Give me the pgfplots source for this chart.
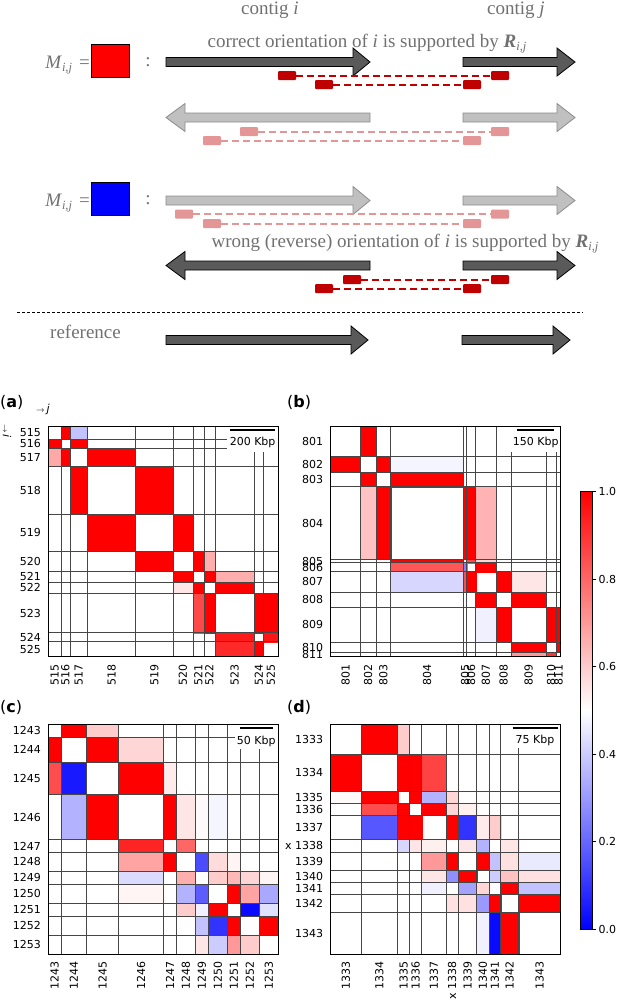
\documentclass[border=0pt]{standalone}
\usepackage{pgfplots}
\pgfplotsset{compat=1.18}
\usepgfplotslibrary{patchplots}
\usepackage{fontspec}
\setmainfont{DejaVu Sans}
\newfontfamily\tnr{Liberation Serif}
\definecolor{txtgray}{RGB}{112,112,112}
\definecolor{arrdark}{RGB}{90,90,90}
\definecolor{arrlight}{RGB}{192,192,192}
\definecolor{arrlightedge}{RGB}{140,140,140}
\definecolor{readdark}{RGB}{192,0,0}
\definecolor{readlight}{RGB}{228,150,150}
\definecolor{gridc}{RGB}{70,70,70}
\newcommand{\tickfont}{\fontsize{11}{12}\selectfont}
\newcommand{\schfont}{\tnr\fontsize{19}{20}\selectfont}
\newcommand{\sub}[1]{\raisebox{-3.5pt}{\fontsize{12.5}{12.5}\selectfont\itshape #1}}
\newcommand{\cell}[5]{\addplot[patch, patch type=rectangle, shader=flat, point meta=explicit, forget plot] coordinates {(#1,#3) [#5] (#2,#3) [#5] (#2,#4) [#5] (#1,#4) [#5]};}
% right arrow: tail x, centre y, shaft length, head length, style
\newcommand{\rarr}[5]{\draw[#5] (axis cs:#1,#2) ++(0pt,4.5pt) -- ++(#3pt,0pt) -- ++(0pt,9.5pt) -- ++(#4pt,-14pt) -- ++(-#4pt,-14pt) -- ++(0pt,9.5pt) -- ++(-#3pt,0pt) -- cycle;}
% left arrow: tail x (right end), centre y, shaft length, head length, style
\newcommand{\larr}[5]{\draw[#5] (axis cs:#1,#2) ++(0pt,4.5pt) -- ++(-#3pt,0pt) -- ++(0pt,9.5pt) -- ++(-#4pt,-14pt) -- ++(#4pt,-14pt) -- ++(0pt,9.5pt) -- ++(#3pt,0pt) -- cycle;}
% read pair: left box x, right box x, centre y, colour
\newcommand{\readpair}[4]{%
 \fill[#4, rounded corners=1pt] (axis cs:#1,#3) ++(0pt,4.5pt) rectangle ++(18pt,-9pt);
 \fill[#4, rounded corners=1pt] (axis cs:#2,#3) ++(0pt,4.5pt) rectangle ++(18pt,-9pt);
 \draw[#4, line width=2pt, dash pattern=on 7pt off 4pt] (axis cs:#1,#3) ++(18pt,0pt) -- (axis cs:#2,#3);}
\tikzset{darkarr/.style={fill=arrdark, draw=black, line width=0.8pt},
         lightarr/.style={fill=arrlight, draw=arrlightedge, line width=0.8pt}}
\pgfplotsset{
 hm/.style={anchor=north west, scale only axis, width=230pt, height=230pt,
   xmin=0, xmax=690, ymin=0, ymax=690, y dir=reverse, axis on top,
   axis line style={black, line width=0.8pt},
   major tick length=0pt, minor tick length=0pt,
   xtick pos=bottom, ytick pos=left,
   xticklabel style={font=\tickfont, rotate=90, anchor=east},
   yticklabel style={font=\tickfont, anchor=east},
   xticklabel shift=4pt, yticklabel shift=4pt,
   colormap={bwr}{rgb255=(0,0,255) rgb255=(255,255,255) rgb255=(255,0,0)},
   point meta min=0, point meta max=1},
 gl/.style={gridc, line width=0.6pt, forget plot},
}
\begin{document}
\begin{tikzpicture}
\path[use as bounding box] (0pt,0pt) rectangle (617pt,-1000pt);
% ---------------- schematic ----------------
\begin{axis}[at={(0pt,0pt)}, anchor=north west, scale only axis, width=617pt, height=1000pt,
  xmin=0, xmax=617, ymin=0, ymax=1000, y dir=reverse, hide axis, clip=false]
\addplot[draw=none, forget plot] coordinates {(0,0)};
\node[anchor=base, font=\schfont, text=txtgray] at (axis cs:270,14) {contig \textit{i}};
\node[anchor=base, font=\schfont, text=txtgray] at (axis cs:516,14) {contig \textit{j}};
\node[anchor=base, font=\schfont, text=txtgray] at (axis cs:367,47) {correct orientation of \textit{i} is supported by {\bfseries\itshape R}\sub{i,j}};
\node[anchor=base, font=\schfont, text=txtgray] at (axis cs:405,247) {wrong (reverse) orientation of \textit{i} is supported by {\bfseries\itshape R}\sub{i,j}};
\node[anchor=base east, inner sep=0pt, font=\schfont, text=txtgray] at (axis cs:90,68) {\textit{M}\sub{i,j}\hspace{7pt}=};
\node[anchor=base east, inner sep=0pt, font=\schfont, text=txtgray] at (axis cs:90,206) {\textit{M}\sub{i,j}\hspace{7pt}=};
\draw[fill=red, line width=0.8pt] (axis cs:91,44) rectangle (axis cs:129,77);
\draw[fill=blue, line width=0.8pt] (axis cs:91,182) rectangle (axis cs:129,215);
\node[anchor=base, inner sep=0pt, font=\schfont, text=txtgray] at (axis cs:148,66) {:};
\node[anchor=base, inner sep=0pt, font=\schfont, text=txtgray] at (axis cs:148,204) {:};
% row 1
\rarr{166}{62}{187}{17}{darkarr}
\rarr{463}{62}{94}{18}{darkarr}
\readpair{278}{491}{75.5}{readdark}
\readpair{315}{463}{84.7}{readdark}
% row 2
\larr{370}{117.5}{185}{19}{lightarr}
\rarr{463}{117.5}{94}{18}{lightarr}
\readpair{240}{491}{131.5}{readlight}
\readpair{203}{463}{140.5}{readlight}
% row 3
\rarr{166}{200.5}{187}{17}{lightarr}
\rarr{463}{200.5}{94}{18}{lightarr}
\readpair{175}{491}{214}{readlight}
\readpair{203}{463}{223.5}{readlight}
% row 4
\larr{370}{265.5}{185}{19}{darkarr}
\rarr{463}{265.5}{94}{18}{darkarr}
\readpair{343}{491}{279.5}{readdark}
\readpair{315}{463}{288.5}{readdark}
% reference
\draw[black, line width=0.6pt, dash pattern=on 3pt off 2pt] (axis cs:17,312) -- (axis cs:583,312);
\node[anchor=base west, inner sep=0pt, font=\schfont, text=txtgray] at (axis cs:50,338) {reference};
\rarr{166}{340}{185}{17}{darkarr}
\rarr{462}{340}{91}{17}{darkarr}
% panel labels
\node[anchor=base west, inner sep=0pt, font=\fontsize{16}{16}\selectfont] at (axis cs:0,407) {(\textbf{a})};
\node[anchor=base west, inner sep=0pt, font=\fontsize{16}{16}\selectfont] at (axis cs:287,407) {(\textbf{b})};
\node[anchor=base west, inner sep=0pt, font=\fontsize{16}{16}\selectfont] at (axis cs:0,712) {(\textbf{c})};
\node[anchor=base west, inner sep=0pt, font=\fontsize{16}{16}\selectfont] at (axis cs:287,712) {(\textbf{d})};
\node[anchor=base west, inner sep=0pt, font=\fontsize{11}{11}\selectfont] at (axis cs:36,412) {$\scriptstyle\rightarrow$\,\textit{j}};
\node[rotate=-90, inner sep=0pt, font=\fontsize{11}{11}\selectfont] at (axis cs:7,431) {$\scriptstyle\rightarrow$\,\textit{i}};
\end{axis}
% ---------------- panel (a) ----------------
\begin{axis}[hm, at={(48.3pt,-426.7pt)},
  xtick={19,51.5,91.5,190,318,404,450.5,483.5,559,631.5,667.5},
  xticklabels={515,516,517,518,519,520,521,522,523,524,525},
  ytick={19,51.5,91.5,190,318,404,450.5,483.5,559,631.5,667.5},
  yticklabels={515,516,517,518,519,520,521,522,523,524,525}]
\cell{38}{65}{0}{38}{1}
\cell{65}{118}{0}{38}{0.38}
\cell{0}{38}{38}{65}{1}
\cell{65}{118}{38}{65}{1}
\cell{0}{38}{65}{118}{0.67}
\cell{38}{65}{65}{118}{1}
\cell{118}{262}{65}{118}{1}
\cell{65}{118}{118}{262}{1}
\cell{262}{374}{118}{262}{1}
\cell{118}{262}{262}{374}{1}
\cell{374}{434}{262}{374}{1}
\cell{262}{374}{374}{434}{1}
\cell{434}{467}{374}{434}{1}
\cell{467}{500}{374}{434}{0.66}
\cell{374}{434}{434}{467}{1}
\cell{467}{500}{434}{467}{1}
\cell{500}{618}{434}{467}{0.66}
\cell{374}{434}{467}{500}{0.55}
\cell{434}{467}{467}{500}{1}
\cell{500}{618}{467}{500}{1}
\cell{434}{467}{500}{618}{0.86}
\cell{467}{500}{500}{618}{1}
\cell{618}{645}{500}{618}{1}
\cell{645}{690}{500}{618}{1}
\cell{500}{618}{618}{645}{0.95}
\cell{645}{690}{618}{645}{0.96}
\cell{500}{618}{645}{690}{0.92}
\cell{618}{645}{645}{690}{1}
\pgfplotsinvokeforeach{38,65,118,262,374,434,467,500,618,645}{
  \addplot[gl] coordinates {(#1,0) (#1,690)};
  \addplot[gl] coordinates {(0,#1) (690,#1)};}
\addplot[fill=white, draw=none, forget plot] coordinates {(535,0) (690,0) (690,75) (535,75)} --cycle;
\addplot[black, line width=2pt, forget plot] coordinates {(545,10) (681,10)};
\node[font=\tickfont] at (axis cs:613,48) {200 Kbp};
\end{axis}
% ---------------- panel (b) ----------------
\begin{axis}[hm, at={(330.7pt,-426.7pt)},
  xtick={44.5,112.5,158,289,403,421.5,465.5,518.5,593.5,661.5,683.5},
  xticklabels={801,802,803,804,805,806,807,808,809,810,811},
  ytick={44.5,112.5,158,289,403,421.5,465.5,518.5,593.5,661.5,683.5},
  yticklabels={801,802,803,804,805,806,807,808,809,810,811}]
\cell{89}{136}{0}{89}{1}
\cell{0}{89}{89}{136}{1}
\cell{136}{180}{89}{136}{1}
\cell{180}{398}{89}{136}{0.48}
\cell{89}{136}{136}{180}{1}
\cell{180}{398}{136}{180}{1}
\cell{89}{136}{180}{398}{0.62}
\cell{136}{180}{180}{398}{1}
\cell{398}{408}{180}{398}{1}
\cell{408}{435}{180}{398}{1}
\cell{435}{496}{180}{398}{0.65}
\cell{180}{398}{398}{408}{1}
\cell{408}{435}{398}{408}{0.85}
\cell{435}{496}{398}{408}{0.58}
\cell{180}{398}{408}{435}{0.83}
\cell{398}{408}{408}{435}{0.25}
\cell{435}{496}{408}{435}{1}
\cell{180}{398}{435}{496}{0.42}
\cell{398}{408}{435}{496}{0.85}
\cell{408}{435}{435}{496}{1}
\cell{496}{541}{435}{496}{1}
\cell{541}{646}{435}{496}{0.55}
\cell{435}{496}{496}{541}{1}
\cell{541}{646}{496}{541}{1}
\cell{435}{496}{541}{646}{0.47}
\cell{496}{541}{541}{646}{1}
\cell{646}{677}{541}{646}{1}
\cell{677}{690}{541}{646}{1}
\cell{541}{646}{646}{677}{1}
\cell{677}{690}{646}{677}{1}
\cell{541}{646}{677}{690}{0.7}
\cell{646}{677}{677}{690}{0.9}
\pgfplotsinvokeforeach{89,136,180,398,408,435,496,541,646,677}{
  \addplot[gl] coordinates {(#1,0) (#1,690)};
  \addplot[gl] coordinates {(0,#1) (690,#1)};}
\addplot[fill=white, draw=none, forget plot] coordinates {(510,0) (690,0) (690,75) (510,75)} --cycle;
\addplot[black, line width=2pt, forget plot] coordinates {(558,10) (671,10)};
\node[font=\tickfont] at (axis cs:615,48) {150 Kbp};
\end{axis}
% ---------------- panel (c) ----------------
\begin{axis}[hm, at={(48.3pt,-724.3pt)},
  xtick={19,76.5,163,278.5,365,413,461,509,557,604.5,661.5},
  xticklabels={1243,1244,1245,1246,1247,1248,1249,1250,1251,1252,1253},
  ytick={19,76.5,163,278.5,365,413,461,509,557,604.5,661.5},
  yticklabels={1243,1244,1245,1246,1247,1248,1249,1250,1251,1252,1253}]
\cell{38}{115}{0}{38}{1}
\cell{115}{211}{0}{38}{0.6}
\cell{0}{38}{38}{115}{1}
\cell{115}{211}{38}{115}{1}
\cell{211}{346}{38}{115}{0.58}
\cell{0}{38}{115}{211}{0.85}
\cell{38}{115}{115}{211}{0.05}
\cell{211}{346}{115}{211}{1}
\cell{346}{384}{115}{211}{0.54}
\cell{38}{115}{211}{346}{0.35}
\cell{115}{211}{211}{346}{1}
\cell{346}{384}{211}{346}{1}
\cell{384}{442}{211}{346}{0.55}
\cell{442}{480}{211}{346}{0.51}
\cell{480}{538}{211}{346}{0.48}
\cell{211}{346}{346}{384}{0.93}
\cell{384}{442}{346}{384}{0.8}
\cell{211}{346}{384}{442}{0.68}
\cell{346}{384}{384}{442}{1}
\cell{442}{480}{384}{442}{0.15}
\cell{480}{538}{384}{442}{0.57}
\cell{538}{576}{384}{442}{0.52}
\cell{211}{346}{442}{480}{0.43}
\cell{384}{442}{442}{480}{0.66}
\cell{480}{538}{442}{480}{0.6}
\cell{538}{576}{442}{480}{0.64}
\cell{576}{633}{442}{480}{0.58}
\cell{633}{690}{442}{480}{0.52}
\cell{211}{346}{480}{538}{0.52}
\cell{384}{442}{480}{538}{0.35}
\cell{442}{480}{480}{538}{0.18}
\cell{538}{576}{480}{538}{1}
\cell{576}{633}{480}{538}{0.68}
\cell{633}{690}{480}{538}{0.33}
\cell{384}{442}{538}{576}{0.6}
\cell{442}{480}{538}{576}{0.47}
\cell{480}{538}{538}{576}{1}
\cell{576}{633}{538}{576}{0.02}
\cell{633}{690}{538}{576}{0.44}
\cell{442}{480}{576}{633}{0.38}
\cell{480}{538}{576}{633}{0.1}
\cell{538}{576}{576}{633}{1}
\cell{633}{690}{576}{633}{1}
\cell{442}{480}{633}{690}{0.55}
\cell{480}{538}{633}{690}{0.4}
\cell{538}{576}{633}{690}{0.7}
\cell{576}{633}{633}{690}{0.6}
\pgfplotsinvokeforeach{38,115,211,346,384,442,480,538,576,633}{
  \addplot[gl] coordinates {(#1,0) (#1,690)};
  \addplot[gl] coordinates {(0,#1) (690,#1)};}
\addplot[fill=white, draw=none, forget plot] coordinates {(560,0) (690,0) (690,75) (560,75)} --cycle;
\addplot[black, line width=2pt, forget plot] coordinates {(575,12) (673,12)};
\node[font=\tickfont] at (axis cs:624,52) {50 Kbp};
\end{axis}
% ---------------- panel (d) ----------------
\begin{axis}[hm, at={(330.7pt,-724.3pt)},
  xtick={45.5,146,218.5,254.5,309.5,364.5,410.5,456.5,492.5,537,627},
  xticklabels={1333,1334,1335,1336,1337,x 1338,1339,1340,1341,1342,1343},
  ytick={45.5,146,218.5,254.5,309.5,364.5,410.5,456.5,492.5,537,627},
  yticklabels={1333,1334,1335,1336,1337,x 1338,1339,1340,1341,1342,1343}]
\cell{91}{201}{0}{91}{1}
\cell{201}{236}{0}{91}{0.6}
\cell{0}{91}{91}{201}{1}
\cell{201}{236}{91}{201}{1}
\cell{236}{273}{91}{201}{1}
\cell{273}{346}{91}{201}{0.87}
\cell{0}{91}{201}{236}{0.51}
\cell{91}{201}{201}{236}{1}
\cell{236}{273}{201}{236}{1}
\cell{273}{346}{201}{236}{0.35}
\cell{346}{383}{201}{236}{0.58}
\cell{91}{201}{236}{273}{0.85}
\cell{201}{236}{236}{273}{1}
\cell{273}{346}{236}{273}{1}
\cell{346}{383}{236}{273}{0.58}
\cell{383}{438}{236}{273}{0.53}
\cell{91}{201}{273}{346}{0.17}
\cell{201}{236}{273}{346}{1}
\cell{236}{273}{273}{346}{1}
\cell{346}{383}{273}{346}{1}
\cell{383}{438}{273}{346}{0.1}
\cell{438}{475}{273}{346}{0.54}
\cell{475}{510}{273}{346}{0.6}
\cell{201}{236}{346}{383}{0.42}
\cell{236}{273}{346}{383}{0.55}
\cell{273}{346}{346}{383}{0.53}
\cell{383}{438}{346}{383}{0.55}
\cell{438}{475}{346}{383}{0.35}
\cell{510}{564}{346}{383}{0.55}
\cell{273}{346}{383}{438}{0.7}
\cell{346}{383}{383}{438}{1}
\cell{438}{475}{383}{438}{1}
\cell{475}{510}{383}{438}{0.38}
\cell{510}{564}{383}{438}{0.56}
\cell{564}{690}{383}{438}{0.46}
\cell{273}{346}{438}{475}{0.55}
\cell{346}{383}{438}{475}{0.28}
\cell{383}{438}{438}{475}{1}
\cell{475}{510}{438}{475}{0.4}
\cell{510}{564}{438}{475}{0.62}
\cell{564}{690}{438}{475}{0.56}
\cell{273}{346}{475}{510}{0.47}
\cell{383}{438}{475}{510}{0.32}
\cell{438}{475}{475}{510}{0.58}
\cell{510}{564}{475}{510}{1}
\cell{564}{690}{475}{510}{0.38}
\cell{346}{383}{510}{564}{0.56}
\cell{383}{438}{510}{564}{0.56}
\cell{438}{475}{510}{564}{0.3}
\cell{475}{510}{510}{564}{1}
\cell{564}{690}{510}{564}{1}
\cell{438}{475}{564}{690}{0.47}
\cell{475}{510}{564}{690}{0.02}
\cell{510}{564}{564}{690}{1}
\pgfplotsinvokeforeach{91,201,236,273,346,383,438,475,510,564}{
  \addplot[gl] coordinates {(#1,0) (#1,690)};
  \addplot[gl] coordinates {(0,#1) (690,#1)};}
\addplot[fill=white, draw=none, forget plot] coordinates {(530,0) (690,0) (690,72) (530,72)} --cycle;
\addplot[black, line width=2pt, forget plot] coordinates {(546,12) (681,12)};
\node[font=\tickfont] at (axis cs:613,47) {75 Kbp};
\end{axis}
% ---------------- colour bar ----------------
\begin{axis}[at={(580pt,-491.7pt)}, anchor=north west, scale only axis, width=12.7pt, height=437.6pt,
  xmin=0, xmax=1, ymin=0, ymax=1, xtick=\empty,
  ytick={0,0.2,0.4,0.6,0.8,1}, yticklabels={0.0,0.2,0.4,0.6,0.8,1.0},
  yticklabel pos=right, ytick pos=right, tick align=outside, major tick length=3.5pt,
  yticklabel style={font=\tickfont, xshift=-1pt}, axis on top, axis line style={black, line width=0.6pt},
  tick style={black, line width=0.6pt}]
\addplot[draw=none, bottom color=blue, top color=white, forget plot] coordinates {(0,0) (1,0) (1,0.5) (0,0.5)} --cycle;
\addplot[draw=none, bottom color=white, top color=red, forget plot] coordinates {(0,0.5) (1,0.5) (1,1) (0,1)} --cycle;
\end{axis}
\end{tikzpicture}
\end{document}
